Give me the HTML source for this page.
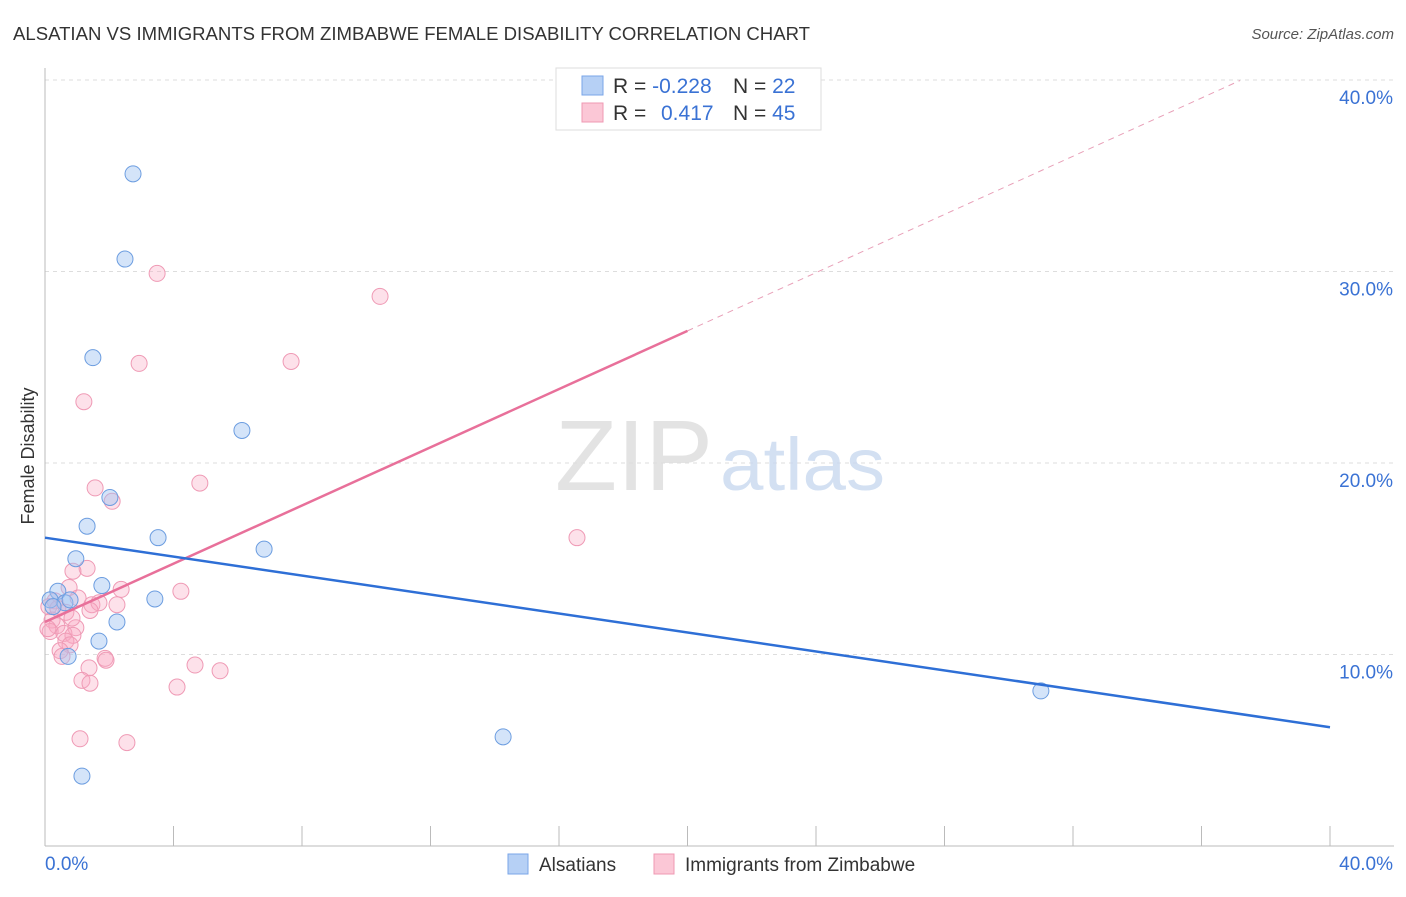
<!DOCTYPE html>
<html><head><meta charset="utf-8">
<style>
body{margin:0;background:#fff;font-family:"Liberation Sans",sans-serif;}
svg text{font-family:"Liberation Sans",sans-serif;}
</style></head>
<body>
<svg id="chart" width="1406" height="892" xmlns="http://www.w3.org/2000/svg">
<text x="13" y="40" font-size="18" fill="#333" textLength="797" lengthAdjust="spacingAndGlyphs">ALSATIAN VS IMMIGRANTS FROM ZIMBABWE FEMALE DISABILITY CORRELATION CHART</text>
<text x="1394" y="39" font-size="15" fill="#555" text-anchor="end" font-style="italic">Source: ZipAtlas.com</text>
<text transform="translate(34,456) rotate(-90)" font-size="18" fill="#333" text-anchor="middle">Female Disability</text>
<g id="grid"></g>
<text x="555" y="490" font-size="100" fill="#ddd" font-family="Liberation Serif" opacity="0.8" textLength="158" lengthAdjust="spacingAndGlyphs">ZIP</text>
<text x="720" y="490" font-size="74" fill="#c9d9f0" opacity="0.8" textLength="165" lengthAdjust="spacingAndGlyphs">atlas</text>
<g id="marks"></g>
<g>
<rect x="556" y="68" width="265" height="62" fill="#fff" stroke="#ddd"/>
<rect x="582" y="76" width="21" height="19" fill="#b6d0f5" stroke="#7aa6e8"/>
<rect x="582" y="103" width="21" height="19" fill="#fbc7d6" stroke="#ef98b3"/>
<text x="613" y="93" font-size="21" fill="#333">R = <tspan fill="#3a72d4">-0.228</tspan></text>
<text x="733" y="93" font-size="21" fill="#333">N = <tspan fill="#3a72d4">22</tspan></text>
<text x="613" y="120" font-size="21" fill="#333">R = <tspan fill="#3a72d4" x="661">0.417</tspan></text>
<text x="733" y="120" font-size="21" fill="#333">N = <tspan fill="#3a72d4">45</tspan></text>
</g>
<g>
<rect x="508" y="854" width="20" height="20" fill="#b6d0f5" stroke="#7aa6e8"/>
<text x="539" y="871" font-size="19" fill="#333">Alsatians</text>
<rect x="654" y="854" width="20" height="20" fill="#fbc7d6" stroke="#ef98b3"/>
<text x="685" y="871" font-size="19" fill="#333">Immigrants from Zimbabwe</text>
</g>
</svg>
<script>
const yTicks=[10,20,30,40];
const yTickLabels=["10.0%","20.0%","30.0%","40.0%"];
const xTicks=[0,4,8,12,16,20,24,28,32,36,40];
const blueX=[2.74,2.49,1.49,6.13,2.02,1.31,3.52,6.82,0.96,1.77,0.40,0.16,0.62,0.78,3.42,2.24,1.68,0.72,31.0,14.26,1.15,0.25];
const blueY=[35.1,30.65,25.5,21.7,18.2,16.7,16.1,15.5,15.0,13.6,13.3,12.85,12.7,12.85,12.9,11.7,10.7,9.9,8.1,5.7,3.65,12.5];
const pinkX=[3.49,10.43,2.93,7.66,1.21,1.56,4.82,2.09,16.56,1.31,0.87,0.75,2.37,4.23,1.03,1.46,1.68,2.24,0.31,0.12,0.65,0.22,0.37,0.96,0.16,0.59,0.87,0.65,0.78,0.47,0.53,1.87,1.90,1.37,4.67,5.45,1.15,1.40,4.11,1.09,2.55,0.09,0.40,0.84,1.40];
const pinkY=[29.9,28.7,25.2,25.3,23.2,18.7,18.95,18.0,16.1,14.5,14.35,13.5,13.4,13.3,12.95,12.6,12.7,12.6,12.8,12.5,12.2,11.8,11.5,11.4,11.2,11.1,11.0,10.7,10.5,10.2,9.9,9.8,9.7,9.3,9.45,9.15,8.65,8.5,8.3,5.6,5.4,11.35,12.4,11.9,12.3];
const blueTrend=[16.1,6.2];
const pinkTrend=[11.7,42.1];
const pinkSolidEnd=20, pinkDashEnd=37.2;
const X=v=>45+v*32.125, Y=v=>846-v*19.15;
const NS="http://www.w3.org/2000/svg";
const grid=document.getElementById('grid'), marks=document.getElementById('marks');
function mk(tag,at,parent){const e=document.createElementNS(NS,tag);for(const k in at)e.setAttribute(k,at[k]);parent.appendChild(e);return e;}
yTicks.forEach((t,i)=>{
 const l=mk('line',{x1:45,x2:1394,y1:Y(t),y2:Y(t),stroke:'#ddd','stroke-dasharray':'4,4'},grid);
 
 
 const tx=mk('text',{x:1393,y:Y(t)+24,'font-size':19,fill:'#3a72d4','text-anchor':'end'},grid);
 tx.textContent=yTickLabels[i];
 
 
});
const ax=mk('line',{x1:45,x2:45,y1:68,y2:846,stroke:'#bbb'},grid);


const bx=mk('line',{x1:45,x2:1394,y1:846,y2:846,stroke:'#bbb'},grid);


xTicks.forEach(t=>{
 const l=mk('line',{x1:X(t),x2:X(t),y1:826,y2:846,stroke:'#bbb'},grid);
 
 
});
[[0,"0.0%","start",45],[40,"40.0%","end",1393]].forEach(a=>{
 const tx=mk('text',{x:a[3],y:870,'font-size':19,fill:'#3a72d4','text-anchor':a[2]},grid);
 tx.textContent=a[1];
 
 
});
pinkX.forEach((v,i)=>{
 const c=mk('circle',{cx:X(v),cy:Y(pinkY[i]),r:8,fill:'rgba(248,170,196,0.35)',stroke:'#ef9ab5','stroke-width':1},marks);
 
 
});
blueX.forEach((v,i)=>{
 const c=mk('circle',{cx:X(v),cy:Y(blueY[i]),r:8,fill:'rgba(160,196,242,0.45)',stroke:'#6c9de0','stroke-width':1},marks);
 
 
});
const pY=x=>pinkTrend[0]+(pinkTrend[1]-pinkTrend[0])*x/40;
const pl=mk('line',{x1:X(0),y1:Y(pinkTrend[0]),x2:X(pinkSolidEnd),y2:Y(pY(pinkSolidEnd)),stroke:'#e8709a','stroke-width':2.5},marks);


const pd=mk('line',{x1:X(pinkSolidEnd),y1:Y(pY(pinkSolidEnd)),x2:X(pinkDashEnd),y2:Y(pY(pinkDashEnd)),stroke:'#e8a0b8','stroke-width':1,'stroke-dasharray':'6,5'},marks);


const bl=mk('line',{x1:X(0),y1:Y(blueTrend[0]),x2:X(40),y2:Y(blueTrend[1]),stroke:'#2e6fd6','stroke-width':2.5},marks);


</script>
</body></html>
